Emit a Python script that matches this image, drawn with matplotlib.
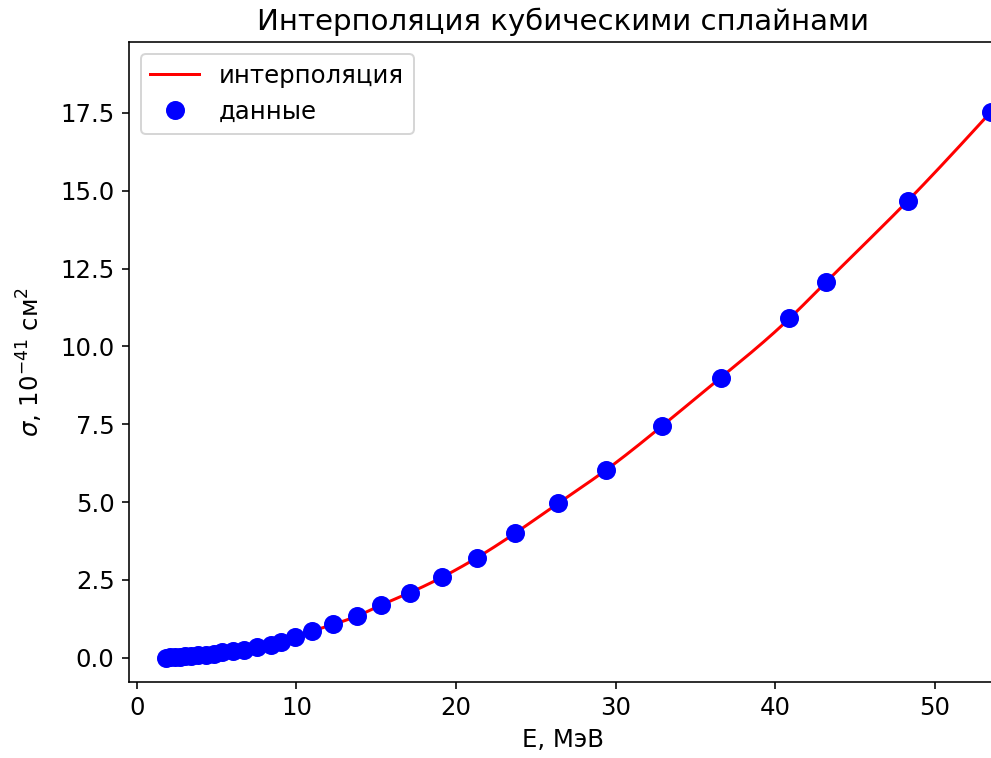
import numpy as np
import matplotlib
matplotlib.use("Agg")
import matplotlib.pyplot as plt

# data
energy = [1.8, 2.1, 2.4, 2.7, 3.0, 3.4, 3.8, 4.3, 4.8, 5.3, 6.0, 6.7, 7.5, 8.4, 9.0,
          9.9, 11.0, 12.3, 13.8, 15.3, 17.1, 19.1, 21.3, 23.7, 26.4, 29.4, 32.9,
          36.6, 40.9, 43.2, 48.3, 53.5]
sigma = [0.0, 0.01, 0.02, 0.03, 0.04, 0.06, 0.08, 0.10, 0.13, 0.17, 0.21, 0.26,
         0.33, 0.42, 0.49, 0.67, 0.86, 1.07, 1.34, 1.69, 2.09, 2.58, 3.21, 4.00,
         4.96, 6.03, 7.44, 9.00, 10.90, 12.07, 14.67, 17.52]


def natural_cubic_spline(x, y, xs):
    x = np.asarray(x, float)
    y = np.asarray(y, float)
    n = len(x)
    h = np.diff(x)
    A = np.zeros((n, n))
    b = np.zeros(n)
    A[0, 0] = 1
    A[-1, -1] = 1
    for i in range(1, n - 1):
        A[i, i - 1] = h[i - 1]
        A[i, i] = 2 * (h[i - 1] + h[i])
        A[i, i + 1] = h[i]
        b[i] = 3 * ((y[i + 1] - y[i]) / h[i] - (y[i] - y[i - 1]) / h[i - 1])
    c = np.linalg.solve(A, b)
    bb = (y[1:] - y[:-1]) / h - h * (2 * c[:-1] + c[1:]) / 3
    d = (c[1:] - c[:-1]) / (3 * h)
    idx = np.clip(np.searchsorted(x, xs) - 1, 0, n - 2)
    dx = xs - x[idx]
    return y[idx] + bb[idx] * dx + c[idx] * dx ** 2 + d[idx] * dx ** 3


xs = np.linspace(min(energy), max(energy), 1000)
ys = natural_cubic_spline(energy, sigma, xs)

plt.rcParams["font.size"] = 12.2
dpi = 144
fig = plt.figure(figsize=(991 / dpi, 758 / dpi), dpi=dpi)
ax = fig.add_axes([128.5 / 991, 1 - 681.7 / 758, (998 - 128.5) / 991, (681.7 - 41.7) / 758])
ax.plot(xs, ys, color="red", lw=1.5, label="интерполяция")
ax.plot(energy, sigma, "o", color="blue", markersize=8.5, label="данные")
ax.set_xlim(-0.53, 53.97)
ax.set_ylim(-0.77, 19.79)
ax.set_title("Интерполяция кубическими сплайнами", fontsize=14.6)
ax.set_xlabel("E, МэВ")
ax.set_ylabel(r"$\sigma$, 10$^{-41}$ см$^2$", labelpad=7.5)
ax.legend(loc="upper left")
fig.savefig("out.png", dpi=dpi)
